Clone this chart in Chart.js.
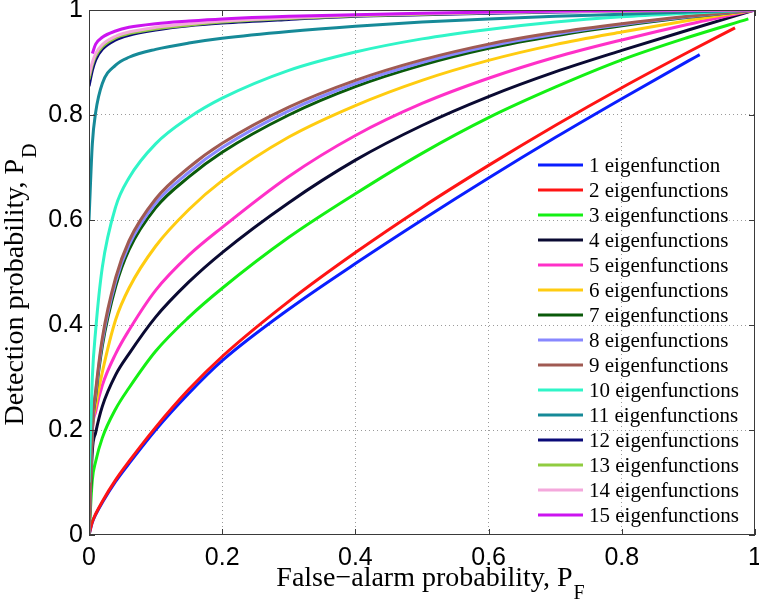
<!DOCTYPE html>
<html>
<head>
<meta charset="utf-8">
<script src="https://cdn.jsdelivr.net/npm/chart.js@4.4.1/dist/chart.umd.min.js"></script>
<style>
  html, body { margin: 0; padding: 0; background: #fff; }
  #wrap { width: 759px; height: 602px; }
</style>
</head>
<body>
<div id="wrap"><canvas id="roc" width="759" height="602"></canvas></div>
<script>
// false-alarm grid (x) shared by all curves, each curve then gets its own end point
const pf = [0, 0.005, 0.01, 0.02, 0.04, 0.06, 0.1, 0.15, 0.2, 0.3, 0.4, 0.5, 0.6, 0.7, 0.8, 0.9];

// detection probability, one array per curve
const pd1  = [0, 0.024, 0.039, 0.062, 0.102, 0.136, 0.2, 0.27, 0.332, 0.43, 0.517, 0.6, 0.68, 0.757, 0.831, 0.903];
const pd2  = [0, 0.025, 0.04, 0.064, 0.105, 0.14, 0.205, 0.2775, 0.34, 0.445, 0.538, 0.624, 0.704, 0.78, 0.852, 0.92];
const pd3  = [0, 0.105, 0.14, 0.185, 0.24, 0.28, 0.35, 0.415, 0.47, 0.567, 0.65, 0.727, 0.795, 0.853, 0.905, 0.948];
const pd4  = [0, 0.16, 0.195, 0.245, 0.305, 0.345, 0.415, 0.482, 0.538, 0.633, 0.714, 0.78, 0.835, 0.882, 0.923, 0.962];
const pd5  = [0, 0.195, 0.235, 0.285, 0.345, 0.39, 0.466, 0.533, 0.586, 0.683, 0.761, 0.822, 0.87, 0.91, 0.943, 0.973];
const pd6  = [0, 0.2, 0.245, 0.31, 0.41, 0.47, 0.55, 0.62, 0.675, 0.758, 0.818, 0.866, 0.904, 0.934, 0.958, 0.98];
const pd7  = [0, 0.2, 0.264, 0.36, 0.473, 0.543, 0.623, 0.682, 0.729, 0.8, 0.854, 0.895, 0.927, 0.951, 0.97, 0.986];
const pd8  = [0, 0.205, 0.27, 0.368, 0.482, 0.552, 0.632, 0.691, 0.738, 0.808, 0.86, 0.9, 0.931, 0.954, 0.972, 0.987];
const pd9  = [0, 0.21, 0.275, 0.375, 0.49, 0.56, 0.64, 0.7, 0.746, 0.815, 0.866, 0.905, 0.935, 0.957, 0.974, 0.988];
const pd10 = [0.1, 0.3, 0.39, 0.51, 0.625, 0.68, 0.745, 0.795, 0.832, 0.885, 0.92, 0.945, 0.963, 0.977, 0.987, 0.994];
const pd11 = [0.6, 0.745, 0.805, 0.86, 0.895, 0.91, 0.925, 0.937, 0.946, 0.959, 0.969, 0.977, 0.983, 0.988, 0.992, 0.996];
const pd12 = [0.855, 0.885, 0.905, 0.925, 0.943, 0.952, 0.962, 0.97, 0.975, 0.982, 0.988, 0.991, 0.994, 0.996, 0.998, 0.999];
const pd13 = [0.868, 0.895, 0.912, 0.93, 0.947, 0.955, 0.964, 0.971, 0.977, 0.984, 0.989, 0.992, 0.995, 0.997, 0.998, 0.999];
const pd14 = [0.875, 0.9, 0.917, 0.934, 0.95, 0.958, 0.967, 0.974, 0.979, 0.985, 0.99, 0.993, 0.995, 0.997, 0.998, 0.999];
const pd15 = [null, 0.917, 0.935, 0.948, 0.96, 0.967, 0.974, 0.979, 0.983, 0.988, 0.991, 0.994, 0.996, 0.998, 0.999, 1.0];

// where each curve stops
const endPf = [0.917, 0.97, 0.99, 1, 1, 1, 1, 1, 1, 1, 1, 1, 1, 1, 1];
const endPd = [0.915, 0.966, 0.983, 1, 1, 1, 1, 1, 1, 1, 1, 1, 1, 1, 1];

const labels = ['1 eigenfunction', '2 eigenfunctions', '3 eigenfunctions', '4 eigenfunctions',
  '5 eigenfunctions', '6 eigenfunctions', '7 eigenfunctions', '8 eigenfunctions', '9 eigenfunctions',
  '10 eigenfunctions', '11 eigenfunctions', '12 eigenfunctions', '13 eigenfunctions',
  '14 eigenfunctions', '15 eigenfunctions'];
const colors = ['#0a1eff', '#ff1414', '#14f014', '#0a0a32', '#ff30c8', '#ffcc10', '#0a5a0a', '#8888ff',
  '#a05a52', '#30f5c8', '#168a98', '#0a0a78', '#90cc40', '#f4a8dc', '#cc14f0'];

const tickVals = [0, 0.2, 0.4, 0.6, 0.8, 1];
const tickLabels = ['0', '0.2', '0.4', '0.6', '0.8', '1'];

const curves = [pd1, pd2, pd3, pd4, pd5, pd6, pd7, pd8, pd9, pd10, pd11, pd12, pd13, pd14, pd15];

const datasets = curves.map((pd, i) => {
  const pts = pf.map((x, j) => ({ x: x, y: pd[j] })).filter(p => p.y !== null);
  pts.push({ x: endPf[i], y: endPd[i] });
  return {
    label: labels[i],
    data: pts,
    borderColor: colors[i],
    backgroundColor: colors[i],
    borderWidth: 3,
    pointRadius: 0,
    cubicInterpolationMode: 'monotone',
    order: curves.length - i
  };
});

const tickFont = { family: '"Liberation Sans", Arial, sans-serif', size: 25 };
const serif = '"Liberation Serif", "Times New Roman", serif';

function tickText(v) {
  const k = tickVals.findIndex(t => Math.abs(t - v) < 1e-9);
  return k >= 0 ? tickLabels[k] : '';
}

// box around the plot with small inward ticks, like the original
const framePlugin = {
  id: 'frame',
  afterDraw(chart) {
    const { ctx, chartArea: a, scales } = chart;
    ctx.save();
    ctx.strokeStyle = '#3a3a3a';
    ctx.lineWidth = 1;
    ctx.strokeRect(a.left + 0.5, a.top + 0.5, a.right - a.left - 1, a.bottom - a.top - 1);
    ctx.beginPath();
    tickVals.forEach(v => {
      const x = Math.round(scales.x.getPixelForValue(v)) + 0.5;
      ctx.moveTo(x, a.bottom); ctx.lineTo(x, a.bottom - 6);
      ctx.moveTo(x, a.top); ctx.lineTo(x, a.top + 6);
      const y = Math.round(scales.y.getPixelForValue(v)) + 0.5;
      ctx.moveTo(a.left, y); ctx.lineTo(a.left + 6, y);
      ctx.moveTo(a.right, y); ctx.lineTo(a.right - 6, y);
    });
    ctx.stroke();
    ctx.restore();
  }
};

// legend inside the plot, lower right, no box
const legendPlugin = {
  id: 'insideLegend',
  afterDraw(chart) {
    const { ctx, chartArea: a } = chart;
    ctx.save();
    ctx.font = '21px ' + serif;
    ctx.textBaseline = 'middle';
    ctx.fillStyle = '#000';
    chart.data.datasets.forEach((ds, i) => {
      const y = a.top + 155 + i * 25;
      const x0 = a.right - 217;
      ctx.strokeStyle = ds.borderColor;
      ctx.lineWidth = 3;
      ctx.beginPath();
      ctx.moveTo(x0, y); ctx.lineTo(x0 + 45, y);
      ctx.stroke();
      ctx.fillText(ds.label, x0 + 51, y + 1);
    });
    ctx.restore();
  }
};

// axis titles with subscripts P_F and P_D
const titlePlugin = {
  id: 'axisTitles',
  afterDraw(chart) {
    const ctx = chart.ctx;
    ctx.save();
    ctx.fillStyle = '#000';
    ctx.textBaseline = 'alphabetic';
    const main = '28px ' + serif, sub = '20px ' + serif;

    // x title
    let t1 = 'False\u2212alarm probability, P', s1 = 'F';
    ctx.font = main; let w1 = ctx.measureText(t1).width;
    ctx.font = sub; let w2 = ctx.measureText(s1).width;
    let x = 430 - (w1 + w2) / 2;
    ctx.font = main; ctx.fillText(t1, x, 586);
    ctx.font = sub; ctx.fillText(s1, x + w1 + 1, 599);

    // y title, rotated
    let t2 = 'Detection probability, P', s2 = 'D';
    ctx.font = main; w1 = ctx.measureText(t2).width;
    ctx.font = sub; w2 = ctx.measureText(s2).width;
    ctx.translate(23, 285);
    ctx.rotate(-Math.PI / 2);
    x = -(w1 + w2) / 2;
    ctx.font = main; ctx.fillText(t2, x, 0);
    ctx.font = sub; ctx.fillText(s2, x + w1 + 1, 13);
    ctx.restore();
  }
};

const gridColor = c => (c.tick && (c.tick.value === 0 || c.tick.value === 1)) ? 'rgba(0,0,0,0)' : '#9a9a9a';

function noPad(s) {
  s.paddingLeft = 0; s.paddingRight = 0; s.paddingTop = 0; s.paddingBottom = 0;
}

new Chart(document.getElementById('roc'), {
  type: 'line',
  data: { datasets: datasets },
  options: {
    responsive: false,
    devicePixelRatio: 1,
    animation: false,
    layout: { padding: { top: 10, right: 4, left: 0, bottom: 0 } },
    plugins: { legend: { display: false }, tooltip: { enabled: false } },
    scales: {
      x: {
        type: 'linear', min: 0, max: 1,
        afterFit(s) { s.height = 67; noPad(s); },
        afterBuildTicks(s) { s.ticks = tickVals.map(v => ({ value: v })); },
        ticks: { font: tickFont, color: '#000', padding: 8, maxRotation: 0, callback: tickText },
        grid: { color: gridColor, lineWidth: 1, drawTicks: false },
        border: { display: false, dash: [1, 3] }
      },
      y: {
        type: 'linear', min: 0, max: 1,
        afterFit(s) { s.width = 89; noPad(s); },
        afterBuildTicks(s) { s.ticks = tickVals.map(v => ({ value: v })); },
        ticks: { font: tickFont, color: '#000', padding: 6, callback: tickText },
        grid: { color: gridColor, lineWidth: 1, drawTicks: false },
        border: { display: false, dash: [1, 3] }
      }
    }
  },
  plugins: [framePlugin, legendPlugin, titlePlugin]
});
</script>
</body>
</html>
